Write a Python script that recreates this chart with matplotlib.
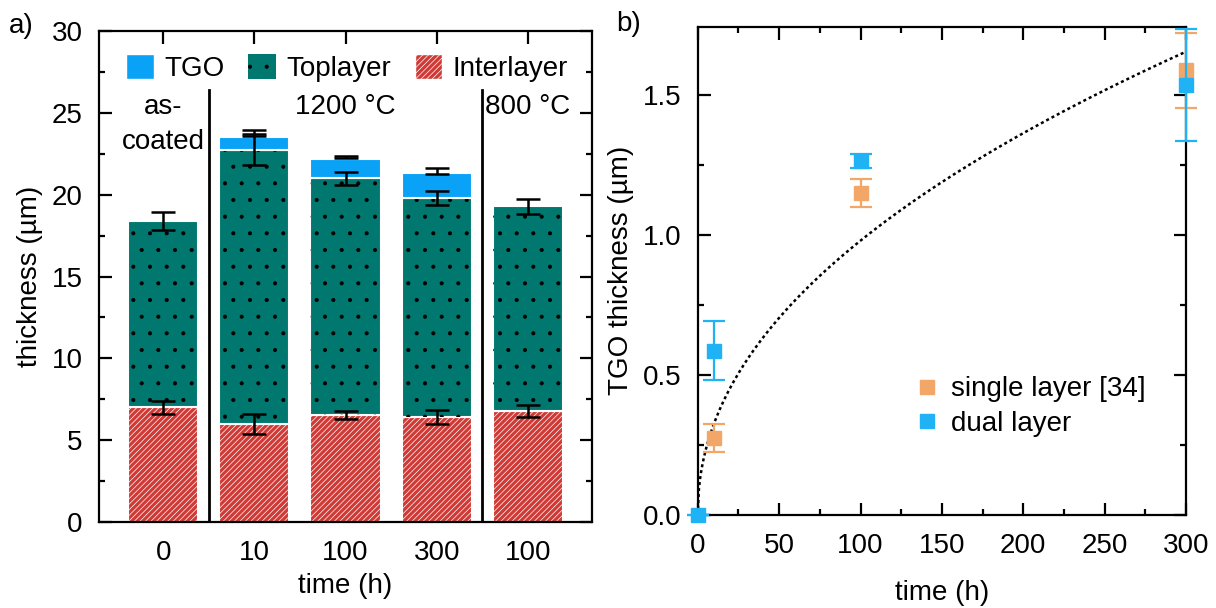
import numpy as np
import matplotlib
matplotlib.use("Agg")
import matplotlib.pyplot as plt
from matplotlib.patches import Patch
from matplotlib.ticker import MultipleLocator, FormatStrFormatter

plt.rcParams['font.family'] = ['Liberation Sans', 'DejaVu Sans']
plt.rcParams['font.size'] = 20
plt.rcParams['hatch.linewidth'] = 0.5

# panel a) layer thicknesses (um)
times_a = ['0', '10', '100', '300', '100']
inter = [7.0, 6.0, 6.55, 6.4, 6.77]
inter_err = [0.4, 0.63, 0.23, 0.43, 0.35]
top_total = [18.4, 22.75, 21.0, 19.77, 19.3]
top_err = [0.55, 0.95, 0.4, 0.43, 0.45]
tgo_idx = [1, 2, 3]
tgo = [0.75, 1.2, 1.55]
tgo_err_mid = [23.78, 22.3, 21.45]
tgo_err = [0.2, 0.05, 0.19]

# panel b) TGO thickness (um)
t_single = [10, 100, 300]
d_single = [0.274, 1.149, 1.589]
e_single = [0.05, 0.05, 0.135]
t_dual = [0, 10, 100, 300]
d_dual = [0.0, 0.587, 1.264, 1.536]
e_dual = [0.0, 0.105, 0.025, 0.2]
fit_k = 0.109   # d = k * t^n
fit_n = 0.477

c_tgo = '#0aa2f7'
c_top = '#00786f'
c_int = '#d03a36'
c_single = '#f2a769'
c_dual = '#1fb2f5'

fig = plt.figure(figsize=(12.16, 6.08), dpi=100)
ax1 = fig.add_axes([0.0817, 0.1414, 0.4050, 0.8076])
ax2 = fig.add_axes([0.5738, 0.1530, 0.4016, 0.8031])

x = np.arange(len(times_a))
w = 0.77
top_thk = [a - b for a, b in zip(top_total, inter)]

ax1.bar(x, inter, w, color=c_int, edgecolor='white', hatch='//////', lw=1.5, zorder=2)
ax1.bar(x, top_thk, w, bottom=inter, color=c_top, edgecolor='white', lw=1.5, zorder=2)
ax1.bar(x, top_thk, w, bottom=inter, color='none', edgecolor='black', hatch='.', lw=0, zorder=2)
ax1.bar(tgo_idx, tgo, w, bottom=[top_total[i] for i in tgo_idx], color=c_tgo,
        edgecolor='white', lw=1.5, zorder=2)

eb = dict(fmt='none', ecolor='black', elinewidth=1.8, capsize=8.5, capthick=1.8, zorder=4)
ax1.errorbar(x, inter, yerr=inter_err, **eb)
ax1.errorbar(x, top_total, yerr=top_err, **eb)
ax1.errorbar(tgo_idx, tgo_err_mid, yerr=tgo_err, **eb)

for xs in (0.5, 3.5):
    ax1.plot([xs, xs], [0, 26.4], color='black', lw=2, zorder=3)

ax1.text(0, 25.35, 'as-', ha='center', va='center')
ax1.text(0, 23.2, 'coated', ha='center', va='center')
ax1.text(2, 25.35, '1200 °C', ha='center', va='center')
ax1.text(4, 25.35, '800 °C', ha='center', va='center')

ax1.set_xlim(-0.7, 4.7)
ax1.set_ylim(0, 30)
ax1.set_xticks(x)
ax1.set_xticklabels(times_a)
ax1.yaxis.set_major_locator(MultipleLocator(5))
ax1.yaxis.set_minor_locator(MultipleLocator(2.5))
ax1.set_xlabel('time (h)', labelpad=5)
ax1.set_ylabel('thickness (µm)', labelpad=6)

h_tgo = Patch(facecolor=c_tgo, edgecolor='white')
h_top = Patch(facecolor=c_top, edgecolor='black', hatch='.', lw=0)
h_int = Patch(facecolor=c_int, edgecolor='white', hatch='//////')
ax1.legend([h_tgo, h_top, h_int], ['TGO', 'Toplayer', 'Interlayer'], ncol=3,
           loc='center', bbox_to_anchor=(0.503, 0.925), frameon=False,
           handlelength=1.0, handleheight=1.05, handletextpad=0.36, columnspacing=0.86)

# panel b
tt = np.linspace(0, 300, 400)
ax2.plot(tt, fit_k * tt ** fit_n, ls=(0, (1.2, 1.2)), color='black', lw=1.8, zorder=2)
ax2.errorbar(t_single, d_single, yerr=e_single, fmt='s', color=c_single, ms=9.5,
             elinewidth=1.6, capsize=8, capthick=1.6, label='single layer [34]',
             clip_on=False, zorder=3)
ax2.errorbar(t_dual, d_dual, yerr=e_dual, fmt='s', color=c_dual, ms=9.5,
             elinewidth=1.6, capsize=8, capthick=1.6, label='dual layer',
             clip_on=False, zorder=4)
ax2.set_xlim(0, 300)
ax2.set_ylim(0, 1.745)
ax2.xaxis.set_major_locator(MultipleLocator(50))
ax2.xaxis.set_minor_locator(MultipleLocator(25))
ax2.yaxis.set_major_locator(MultipleLocator(0.5))
ax2.yaxis.set_minor_locator(MultipleLocator(0.25))
ax2.yaxis.set_major_formatter(FormatStrFormatter('%.1f'))
ax2.set_xlabel('time (h)', labelpad=15)
ax2.set_ylabel('TGO thickness (µm)', labelpad=6)
handles, labels = ax2.get_legend_handles_labels()
handles = [h[0] for h in handles]
ax2.legend(handles, labels, loc='center left', bbox_to_anchor=(0.396, 0.222),
           frameon=False, handlelength=0.8, handletextpad=0.45, labelspacing=0.3)

for ax in (ax1, ax2):
    for s in ax.spines.values():
        s.set_linewidth(1.6)
    ax.tick_params(which='both', direction='in', top=True, right=True, width=1.6)
    ax.tick_params(which='major', length=9)
    ax.tick_params(which='minor', length=4.5)
    ax.tick_params(axis='x', which='major', pad=13)
    ax.tick_params(axis='y', which='major', pad=12)
ax1.tick_params(axis='x', which='minor', top=False, bottom=False)

fig.text(0.007, 0.958, 'a)', fontsize=20, va='center')
fig.text(0.507, 0.96, 'b)', fontsize=20, va='center')

fig.savefig('out.png', dpi=100)
